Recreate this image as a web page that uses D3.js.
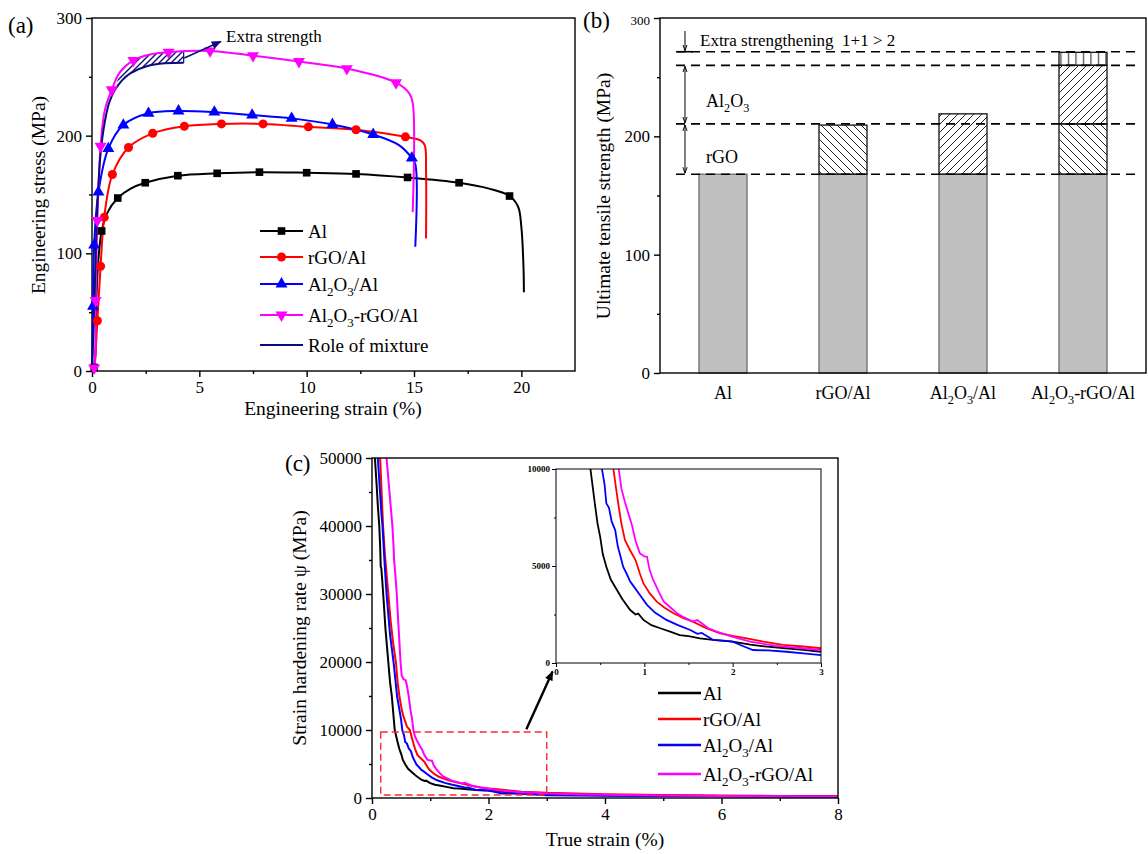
<!DOCTYPE html>
<html>
<head>
<meta charset="utf-8">
<script src="https://cdn.jsdelivr.net/npm/d3@7"></script>
<style>
body { margin: 0; background: #fff; }
svg { font-family: "Liberation Serif", "Times New Roman", serif; }
</style>
</head>
<body>
<svg id="fig" width="1148" height="854"></svg>
<script>
"use strict";

// ---------- (a) engineering stress-strain, [strain %, stress MPa, marker] ----------
var curveAl = [[0,0,0],[0.1,3,1],[0.2,60,0],[0.3,95,0],[0.45,119,1],[0.7,134,0],[1.2,147,1],[1.8,155,0],
	[2.48,160,1],[4.0,166,1],[5.83,168,1],[7.8,169,1],[10.0,168.5,1],[12.3,167.5,1],[14.7,164.5,1],
	[17.1,160,1],[18.5,155,0],[19.45,148.7,1],[19.85,139.6,0],[20.0,122.6,0],[20.1,88.6,0],[20.12,67,0]];
var curveRgo = [[0,0,0],[0.1,5,0],[0.25,42.7,1],[0.4,89,1],[0.57,130.6,1],[0.95,167,1],[1.7,190,1],
	[2.83,202,1],[4.3,208,1],[6.03,210,1],[7.97,210,1],[10.08,207.5,1],[12.3,205,1],[14.6,199,1],
	[15.3,196,0],[15.5,192,0],[15.56,170,0],[15.56,112.7,0]];
var curveAlo = [[0,0,0],[0.05,55,1],[0.1,107,1],[0.3,152,1],[0.76,189,1],[1.46,209,1],[2.63,219,1],
	[4.03,221,1],[5.7,220,1],[7.46,217.5,1],[9.3,214.7,1],[11.2,209.5,1],[13.1,201,1],[14.3,192,0],
	[14.9,181,1],[15.06,176,0],[15.06,105.6,0]];
var curveHybrid = [[0,0,0],[0.1,2.5,1],[0.17,60,1],[0.25,128,1],[0.4,191,1],[0.6,222,0],[0.92,239,1],
	[1.3,254,0],[1.93,264,1],[2.7,269,0],[3.57,271,1],[5.5,272,1],[7.5,268,1],[9.64,263,1],[11.87,257,1],
	[14.16,245,1],[14.78,236,0],[14.94,228,0],[14.94,135,0]];
var curveMixture = [[0,0],[0.08,40],[0.15,85],[0.25,140],[0.4,185],[0.6,212],[0.8,228],[1.07,239],
	[1.4,247],[1.78,253],[2.55,259],[3.4,261.5],[4.27,262]];
var extraUpper = [[1.07,240],[1.3,254],[1.93,264],[2.7,269],[3.57,271],[4.27,271.5]];
var extraArrow = [[4.3,266],[6.0,280]];
var ticksA_x = [0,5,10,15,20], minorA_x = [2.5,7.5,12.5,17.5];
var ticksA_y = [0,100,200,300], minorA_y = [50,150,250];

// ---------- (b) ultimate tensile strength ----------
var categories = ['Al','rGO/Al','Al_2O_3/Al','Al_2O_3-rGO/Al'];
var utsMatrix = [168,168,168,168];
var utsRgo = [0,41.5,0,42.5];
var utsAlo = [0,0,51,49.5];
var utsExtra = [0,0,0,11];
var refLevels = [271.5,260,210.5,168];
var ticksB_y = [0,100,200,300], minorB_y = [50,150,250];

// ---------- (c) strain hardening rate, [true strain %, psi MPa] ----------
var psiAl = [[0.05,50000],[0.08,46000],[0.1,43000],[0.125,40000],[0.14,37000],[0.15,34000],[0.16,33800],
	[0.18,31500],[0.2,29000],[0.23,25000],[0.26,22000],[0.28,20000],[0.31,17000],[0.34,15000],[0.37,12000],
	[0.39,10000],[0.44,8200],[0.47,7200],[0.5,6500],[0.53,5600],[0.57,4960],[0.62,4300],[0.69,3760],
	[0.75,3300],[0.84,2730],[0.9,2500],[0.93,2550],[0.99,2220],[1.08,1950],[1.18,1790],[1.3,1600],
	[1.4,1440],[1.5,1380],[1.63,1270],[1.8,1180],[2.0,1100],[2.2,950],[2.39,840],[2.6,760],[2.8,680],
	[3.0,580],[3.5,480],[4,420],[5,330],[6,280],[7,240],[8,210]];
var psiRgo = [[0.14,50000],[0.16,46000],[0.19,40000],[0.22,36000],[0.25,33000],[0.28,30000],[0.32,26000],
	[0.36,23000],[0.41,20000],[0.44,17000],[0.47,15000],[0.51,13000],[0.54,12000],[0.6,10500],[0.65,10000],
	[0.68,9000],[0.71,8060],[0.74,7200],[0.78,6340],[0.84,5800],[0.9,5310],[0.95,4600],[0.99,4100],
	[1.06,3600],[1.14,3160],[1.23,2850],[1.33,2560],[1.45,2300],[1.55,2130],[1.7,1800],[1.86,1530],
	[2.0,1400],[2.16,1270],[2.35,1100],[2.57,930],[2.8,850],[3.0,760],[3.5,650],[4,560],[5,430],[6,360],
	[7,300],[8,260]];
var psiAlo = [[0.1,50000],[0.13,46000],[0.16,42000],[0.18,40000],[0.2,37000],[0.22,34000],[0.25,30000],
	[0.28,27000],[0.31,24000],[0.34,22000],[0.37,20000],[0.4,17500],[0.43,15000],[0.47,13000],[0.5,11500],
	[0.52,10000],[0.55,9200],[0.57,8230],[0.6,8000],[0.63,7300],[0.67,6850],[0.7,6000],[0.73,5500],
	[0.76,4960],[0.8,4600],[0.84,4200],[0.88,3950],[0.95,3500],[1.03,3000],[1.12,2600],[1.25,2220],
	[1.38,1950],[1.52,1700],[1.6,1500],[1.65,1550],[1.78,1190],[1.9,1150],[2.0,1100],[2.1,900],[2.23,670],
	[2.4,650],[2.61,580],[2.8,500],[3.0,410],[3.5,380],[4,340],[5,280],[6,240],[7,210],[8,190]];
var psiHybrid = [[0.25,50000],[0.28,47000],[0.3,45000],[0.33,42000],[0.35,40000],[0.37,37000],[0.38,35000],
	[0.4,33000],[0.425,30000],[0.45,26000],[0.47,23000],[0.49,20000],[0.51,18000],[0.54,17500],[0.58,17300],
	[0.6,16500],[0.63,15000],[0.66,13000],[0.69,11500],[0.71,10000],[0.74,9000],[0.78,8300],[0.82,7700],
	[0.86,7100],[0.9,6300],[0.95,5650],[1.0,5500],[1.03,5480],[1.06,4800],[1.1,4280],[1.16,3700],
	[1.22,3160],[1.3,2850],[1.37,2560],[1.45,2350],[1.55,2130],[1.6,2220],[1.65,2050],[1.72,1800],
	[1.82,1620],[2.0,1350],[2.2,1100],[2.4,950],[2.57,840],[2.8,760],[3.0,670],[3.5,560],[4,480],[5,380],
	[6,310],[7,260],[8,230]];
var zoomBox = [[0.15,450],[3.0,9700]];
var zoomArrow = [[2.65,10100],[3.1,18600]];
var ticksC_x = [0,2,4,6,8], minorC_x = [1,3,5,7];
var ticksC_y = [0,10000,20000,30000,40000,50000], minorC_y = [5000,15000,25000,35000,45000];
var ticksI_x = [0,1,2,3], minorI_x = [0.5,1.5,2.5];
var ticksI_y = [0,5000,10000], minorI_y = [2500,7500];

var svg = d3.select('#fig');
var defs = svg.append('defs');

// text with "_2" style subscripts
function rich(sel, str, size) {
	var parts = str.split(/_(\d)/);
	var down = false;
	parts.forEach(function(p, i) {
		if (p === '') return;
		var sub = i % 2 === 1;
		var t = sel.append('tspan').text(p).attr('font-size', sub ? size * 0.68 : size);
		if (sub && !down) { t.attr('dy', size * 0.3); down = true; }
		else if (!sub && down) { t.attr('dy', -size * 0.3); down = false; }
	});
	return sel;
}

// outward ticks on left and bottom, plain frame round the plot
function axes(g, x, y, o) {
	var x0 = x.range()[0], x1 = x.range()[1], y0 = y.range()[0], y1 = y.range()[1];
	var fs = o.font || 17;
	function style(a) {
		a.select('.domain').remove();
		a.attr('font-family', null).attr('font-size', fs).attr('font-weight', o.bold ? 'bold' : null);
		a.selectAll('line').attr('stroke-width', o.lw || 1.4);
	}
	if (o.xMajor) {
		g.append('g').attr('transform', 'translate(0,' + y0 + ')')
			.call(d3.axisBottom(x).tickValues(o.xMajor).tickSize(o.tick).tickPadding(o.pad || 4).tickFormat(d3.format('d')))
			.call(style);
		g.append('g').attr('transform', 'translate(0,' + y0 + ')')
			.call(d3.axisBottom(x).tickValues(o.xMinor).tickSize(o.tick / 2).tickFormat(''))
			.call(style);
	}
	g.append('g').attr('transform', 'translate(' + x0 + ',0)')
		.call(d3.axisLeft(y).tickValues(o.yMajor).tickSize(o.tick).tickPadding(o.pad || 4).tickFormat(d3.format('d')))
		.call(style);
	g.append('g').attr('transform', 'translate(' + x0 + ',0)')
		.call(d3.axisLeft(y).tickValues(o.yMinor).tickSize(o.tick / 2).tickFormat(''))
		.call(style);
	g.append('rect').attr('x', x0).attr('y', y1).attr('width', x1 - x0).attr('height', y0 - y1)
		.attr('fill', 'none').attr('stroke', '#000').attr('stroke-width', o.lw || 1.4);
}

function hatch(id, path, size, color, w) {
	defs.append('pattern').attr('id', id).attr('patternUnits', 'userSpaceOnUse')
		.attr('width', size).attr('height', size)
		.append('path').attr('d', path).attr('stroke', color).attr('stroke-width', w).attr('fill', 'none');
}
hatch('hA', 'M0,6 L6,0 M-1,1 L1,-1 M5,7 L7,5', 6, '#0b0b7a', 1.4);
hatch('hBack', 'M0,0 L8,8 M-2,6 L2,10 M6,-2 L10,2', 8, '#222', 1);
hatch('hFwd', 'M0,8 L8,0 M-2,2 L2,-2 M6,10 L10,6', 8, '#222', 1);
hatch('hVert', 'M3.5,0 L3.5,8', 7.5, '#222', 1);

function arrowMarker(id, color) {
	defs.append('marker').attr('id', id).attr('viewBox', '0 0 10 10').attr('refX', 9).attr('refY', 5)
		.attr('markerWidth', 10).attr('markerHeight', 10).attr('markerUnits', 'userSpaceOnUse')
		.attr('orient', 'auto-start-reverse')
		.append('path').attr('d', 'M0,1 L10,5 L0,9 Z').attr('fill', color);
}
arrowMarker('arNavy', '#0b0b7a');
arrowMarker('arBlack', '#000');
defs.append('marker').attr('id', 'arThin').attr('viewBox', '0 0 10 10').attr('refX', 10).attr('refY', 5)
	.attr('markerWidth', 6).attr('markerHeight', 9).attr('markerUnits', 'userSpaceOnUse')
	.attr('orient', 'auto-start-reverse')
	.append('path').attr('d', 'M0,1.5 L10,5 L0,8.5').attr('fill', 'none').attr('stroke', '#000').attr('stroke-width', 1.6);

// ================= (a) =================
var gA = svg.append('g');
var xA = d3.scaleLinear().domain([0, 22.5]).range([92, 575]);
var yA = d3.scaleLinear().domain([0, 300]).range([371, 18]);
axes(gA, xA, yA, {xMajor: ticksA_x, xMinor: minorA_x, yMajor: ticksA_y, yMinor: minorA_y, tick: 6});

var lineA = d3.line().x(function(d) { return xA(d[0]); }).y(function(d) { return yA(d[1]); })
	.curve(d3.curveCatmullRom.alpha(0.5));

var seriesA = [
	{name: 'Al', data: curveAl, color: '#000000', sym: d3.symbolSquare, size: 58, rot: 0},
	{name: 'rGO/Al', data: curveRgo, color: '#ff0000', sym: d3.symbolCircle, size: 64, rot: 0},
	{name: 'Al_2O_3/Al', data: curveAlo, color: '#0000ff', sym: d3.symbolTriangle, size: 62, rot: 0},
	{name: 'Al_2O_3-rGO/Al', data: curveHybrid, color: '#ff00ff', sym: d3.symbolTriangle, size: 62, rot: 180}
];

// extra strength region between mixture rule and hybrid curve
var extraPoly = curveMixture.filter(function(d) { return d[0] >= 1.07; }).concat(extraUpper.slice().reverse());
gA.append('path').attr('d', d3.line().x(function(d) { return xA(d[0]); }).y(function(d) { return yA(d[1]); })(extraPoly) + 'Z')
	.attr('fill', 'url(#hA)');
gA.append('line').attr('x1', xA(4.27)).attr('x2', xA(4.27)).attr('y1', yA(262)).attr('y2', yA(271.5))
	.attr('stroke', '#0b0b7a').attr('stroke-width', 1.2);

seriesA.forEach(function(s) {
	gA.append('path').attr('d', lineA(s.data)).attr('fill', 'none').attr('stroke', s.color).attr('stroke-width', 2);
});
gA.append('path').attr('d', lineA(curveMixture)).attr('fill', 'none').attr('stroke', '#0b0b7a').attr('stroke-width', 2);
seriesA.forEach(function(s) {
	gA.selectAll(null).data(s.data.filter(function(d) { return d[2]; })).enter().append('path')
		.attr('d', d3.symbol().type(s.sym).size(s.size))
		.attr('transform', function(d) { return 'translate(' + xA(d[0]) + ',' + yA(d[1]) + ') rotate(' + s.rot + ')'; })
		.attr('fill', s.color);
});

gA.append('line').attr('x1', xA(extraArrow[0][0])).attr('y1', yA(extraArrow[0][1]))
	.attr('x2', xA(extraArrow[1][0])).attr('y2', yA(extraArrow[1][1]))
	.attr('stroke', '#0b0b7a').attr('stroke-width', 1.6).attr('marker-end', 'url(#arNavy)');
gA.append('text').attr('x', 226).attr('y', 42).attr('font-size', 17).text('Extra strength');

// legend (a)
var legA = seriesA.concat([{name: 'Role of mixture', color: '#0b0b7a', sym: null}]);
var legY = [231, 257, 284, 315, 345];
legA.forEach(function(s, i) {
	var y = legY[i];
	gA.append('line').attr('x1', 260).attr('x2', 303).attr('y1', y).attr('y2', y)
		.attr('stroke', s.color).attr('stroke-width', 2.2);
	if (s.sym) {
		gA.append('path').attr('d', d3.symbol().type(s.sym).size(s.size))
			.attr('transform', 'translate(281.5,' + y + ') rotate(' + s.rot + ')').attr('fill', s.color);
	}
	rich(gA.append('text').attr('x', 308).attr('y', y + 6.5), s.name, 19);
});

gA.append('text').attr('x', 8).attr('y', 33).attr('font-size', 23).text('(a)');
gA.append('text').attr('x', 333).attr('y', 415).attr('text-anchor', 'middle').attr('font-size', 19.5).text('Engineering strain (%)');
gA.append('text').attr('transform', 'translate(45,195) rotate(-90)').attr('text-anchor', 'middle')
	.attr('font-size', 19.5).text('Engineering stress (MPa)');

// ================= (b) =================
var gB = svg.append('g');
var xB = d3.scaleBand().domain(categories).range([660, 1146]).paddingInner(0.6).paddingOuter(0.325);
var yB = d3.scaleLinear().domain([0, 300]).range([373, 18]);

var tableB = categories.map(function(c, i) {
	return {cat: c, matrix: utsMatrix[i], rgo: utsRgo[i], alo: utsAlo[i], extra: utsExtra[i]};
});
var stackB = d3.stack().keys(['matrix', 'rgo', 'alo', 'extra'])(tableB);
var fillB = {matrix: '#c0c0c0', rgo: 'url(#hBack)', alo: 'url(#hFwd)', extra: 'url(#hVert)'};

stackB.forEach(function(layer) {
	gB.selectAll(null).data(layer.filter(function(d) { return d[1] > d[0]; })).enter().append('rect')
		.attr('x', function(d) { return xB(d.data.cat); })
		.attr('width', xB.bandwidth())
		.attr('y', function(d) { return yB(d[1]); })
		.attr('height', function(d) { return yB(d[0]) - yB(d[1]); })
		.attr('fill', fillB[layer.key])
		.attr('stroke', layer.key === 'matrix' ? '#6a6a6a' : '#111')
		.attr('stroke-width', 1.3);
});

gB.selectAll(null).data(refLevels).enter().append('line')
	.attr('x1', 676).attr('x2', 1141)
	.attr('y1', function(d) { return yB(d); }).attr('y2', function(d) { return yB(d); })
	.attr('stroke', '#000').attr('stroke-width', 1.6).attr('stroke-dasharray', '9,6');

axes(gB, d3.scaleLinear().range([660, 1146]), yB, {yMajor: ticksB_y, yMinor: minorB_y, tick: 6});
gB.selectAll('.tick text').filter(function(d) { return d === 300; }).attr('font-size', 13).attr('dy', '0.5em');

categories.forEach(function(c) {
	rich(gB.append('text').attr('x', xB(c) + xB.bandwidth() / 2).attr('y', 399).attr('text-anchor', 'middle'), c, 18);
});

// level arrows
var ax = 685;
gB.append('line').attr('x1', ax).attr('x2', ax).attr('y1', 31).attr('y2', yB(refLevels[0]) - 1)
	.attr('stroke', '#000').attr('stroke-width', 1).attr('marker-end', 'url(#arThin)');
gB.append('line').attr('x1', ax - 8).attr('x2', ax + 8).attr('y1', yB(refLevels[0])).attr('y2', yB(refLevels[0]))
	.attr('stroke', '#000').attr('stroke-width', 1.6);
[[refLevels[1], refLevels[2]], [refLevels[2], refLevels[3]]].forEach(function(p) {
	gB.append('line').attr('x1', ax).attr('x2', ax).attr('y1', yB(p[0]) + 1).attr('y2', yB(p[1]) - 1)
		.attr('stroke', '#000').attr('stroke-width', 1)
		.attr('marker-start', 'url(#arThin)').attr('marker-end', 'url(#arThin)');
});
gB.append('text').attr('x', 700).attr('y', 46).attr('font-size', 17).attr('xml:space', 'preserve')
	.text('Extra strengthening  1+1 > 2');
rich(gB.append('text').attr('x', 706).attr('y', 107), 'Al_2O_3', 18);
gB.append('text').attr('x', 706).attr('y', 163).attr('font-size', 18).text('rGO');

gB.append('text').attr('x', 583).attr('y', 28).attr('font-size', 23).text('(b)');
gB.append('text').attr('transform', 'translate(610,196) rotate(-90)').attr('text-anchor', 'middle')
	.attr('font-size', 19.5).text('Ultimate tensile strength (MPa)');

// ================= (c) =================
var gC = svg.append('g');
var xC = d3.scaleLinear().domain([0, 8]).range([372, 838]);
var yC = d3.scaleLinear().domain([0, 50000]).range([798, 458]);

defs.append('clipPath').attr('id', 'clipC').append('rect')
	.attr('x', 372).attr('y', 458).attr('width', 466).attr('height', 340);

var seriesC = [
	{name: 'Al', data: psiAl, color: '#000000'},
	{name: 'rGO/Al', data: psiRgo, color: '#ff0000'},
	{name: 'Al_2O_3/Al', data: psiAlo, color: '#0000ff'},
	{name: 'Al_2O_3-rGO/Al', data: psiHybrid, color: '#ff00ff'}
];
var lineC = d3.line().x(function(d) { return xC(d[0]); }).y(function(d) { return yC(d[1]); });
var curvesC = gC.append('g').attr('clip-path', 'url(#clipC)');
seriesC.forEach(function(s) {
	curvesC.append('path').attr('d', lineC(s.data)).attr('fill', 'none').attr('stroke', s.color).attr('stroke-width', 2);
});
axes(gC, xC, yC, {xMajor: ticksC_x, xMinor: minorC_x, yMajor: ticksC_y, yMinor: minorC_y, tick: 6});

gC.append('rect').attr('x', xC(zoomBox[0][0])).attr('y', yC(zoomBox[1][1]))
	.attr('width', xC(zoomBox[1][0]) - xC(zoomBox[0][0])).attr('height', yC(zoomBox[0][1]) - yC(zoomBox[1][1]))
	.attr('fill', 'none').attr('stroke', '#ff2a2a').attr('stroke-width', 1.4).attr('stroke-dasharray', '7,4');
gC.append('line').attr('x1', xC(zoomArrow[0][0])).attr('y1', yC(zoomArrow[0][1]))
	.attr('x2', xC(zoomArrow[1][0])).attr('y2', yC(zoomArrow[1][1]))
	.attr('stroke', '#000').attr('stroke-width', 2.4).attr('marker-end', 'url(#arBlack)');

// inset
var xI = d3.scaleLinear().domain([0, 3]).range([556, 821]);
var yI = d3.scaleLinear().domain([0, 10000]).range([663, 469]);
defs.append('clipPath').attr('id', 'clipI').append('rect')
	.attr('x', 556).attr('y', 469).attr('width', 265).attr('height', 194);
var gI = gC.append('g');
gI.append('rect').attr('x', 556).attr('y', 469).attr('width', 265).attr('height', 194).attr('fill', '#fff');
var lineI = d3.line().x(function(d) { return xI(d[0]); }).y(function(d) { return yI(d[1]); });
var curvesI = gI.append('g').attr('clip-path', 'url(#clipI)');
seriesC.forEach(function(s) {
	curvesI.append('path').attr('d', lineI(s.data)).attr('fill', 'none').attr('stroke', s.color).attr('stroke-width', 1.8);
});
axes(gI, xI, yI, {xMajor: ticksI_x, xMinor: minorI_x, yMajor: ticksI_y, yMinor: minorI_y, tick: 4, font: 9, bold: true, lw: 1, pad: 2});

// legend (c)
var legCY = [693, 719, 745, 774];
seriesC.forEach(function(s, i) {
	var y = legCY[i];
	gC.append('line').attr('x1', 658).attr('x2', 701).attr('y1', y).attr('y2', y)
		.attr('stroke', s.color).attr('stroke-width', 2.6);
	rich(gC.append('text').attr('x', 703).attr('y', y + 6.5), s.name, 19);
});

gC.append('text').attr('x', 285).attr('y', 471).attr('font-size', 23).text('(c)');
gC.append('text').attr('x', 605).attr('y', 846).attr('text-anchor', 'middle').attr('font-size', 19.5).text('True strain (%)');
gC.append('text').attr('transform', 'translate(306,628) rotate(-90)').attr('text-anchor', 'middle')
	.attr('font-size', 19.5).text('Strain hardening rate \u03c8 (MPa)');
</script>
</body>
</html>
